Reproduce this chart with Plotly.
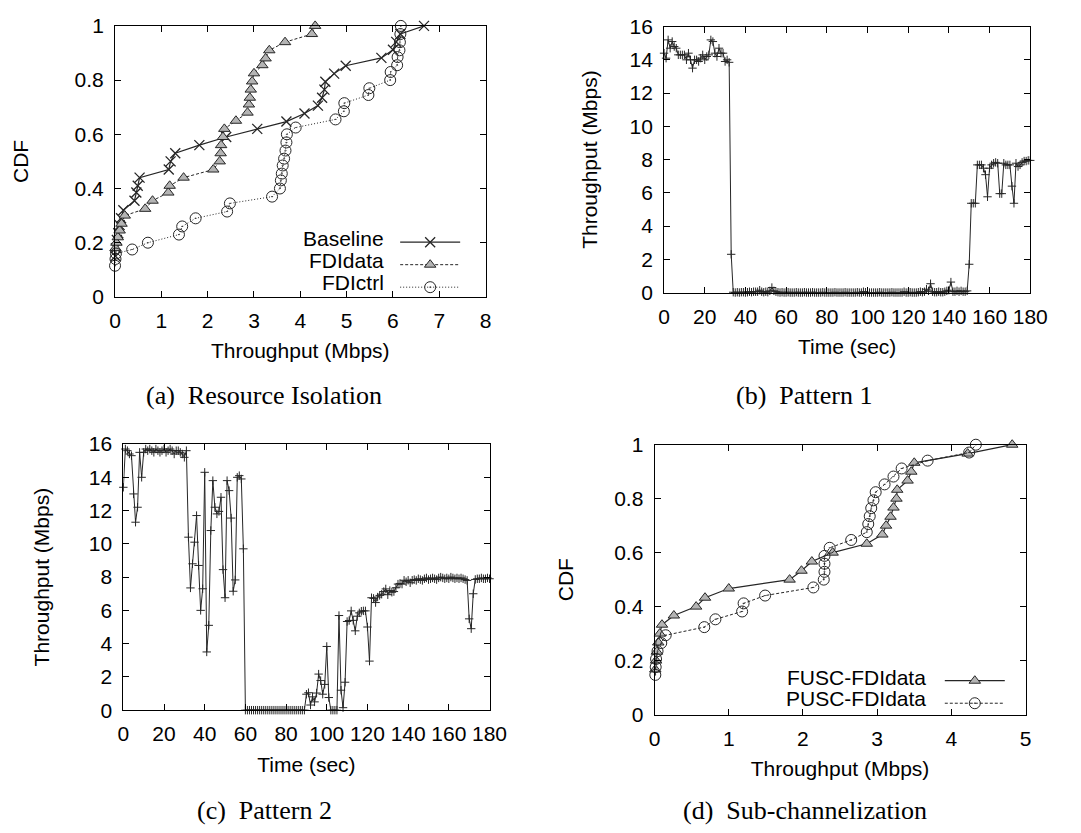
import plotly.graph_objects as go

W, H = 1081, 833

# ---------------- (a) Resource Isolation : CDF of throughput (Mbps)
baseline_x = [0.01, 0.02, 0.04, 0.07, 0.10, 0.13, 0.18, 0.42, 0.46, 0.49, 0.53, 1.16, 1.20, 1.30, 1.82,
              2.40, 3.07, 3.70, 4.09, 4.38, 4.47, 4.52, 4.54, 4.73, 4.98, 5.75, 6.00, 6.07, 6.16, 6.67]
baseline_y = [0.15, 0.18, 0.21, 0.235, 0.265, 0.29, 0.32, 0.355, 0.385, 0.41, 0.44, 0.47, 0.50, 0.53, 0.56,
              0.59, 0.62, 0.647, 0.677, 0.706, 0.735, 0.765, 0.794, 0.824, 0.853, 0.882, 0.912, 0.941, 0.97, 1.0]

fdidata_x = [0.01, 0.03, 0.06, 0.10, 0.14, 0.21, 0.65, 0.81, 1.15, 1.18, 1.48, 2.12, 2.26, 2.28, 2.29,
             2.33, 2.36, 2.61, 2.86, 2.89, 2.91, 2.93, 2.96, 3.00, 3.18, 3.25, 3.33, 3.67, 4.25, 4.32]
fdidata_y = [0.18, 0.20, 0.22, 0.245, 0.27, 0.30, 0.325, 0.355, 0.385, 0.41, 0.44, 0.47, 0.50, 0.53, 0.56,
             0.59, 0.62, 0.65, 0.68, 0.71, 0.735, 0.765, 0.795, 0.825, 0.855, 0.88, 0.91, 0.94, 0.97, 1.0]

fdictrl_x = [0.0, 0.01, 0.02, 0.37, 0.71, 1.38, 1.45, 1.74, 2.42, 2.48, 3.39, 3.56, 3.58, 3.60, 3.62,
             3.65, 3.68, 3.70, 3.71, 3.90, 4.76, 4.94, 4.95, 5.47, 5.49, 5.94, 5.95, 6.09, 6.10, 6.14,
             6.15, 6.16, 6.17]
fdictrl_y = [0.115, 0.14, 0.16, 0.175, 0.20, 0.23, 0.26, 0.29, 0.315, 0.345, 0.37, 0.40, 0.43, 0.455, 0.485,
             0.51, 0.54, 0.57, 0.60, 0.625, 0.655, 0.685, 0.715, 0.745, 0.77, 0.80, 0.83, 0.855, 0.885, 0.91,
             0.94, 0.97, 1.0]

# ---------------- (b) Pattern 1 and (c) Pattern 2 : throughput over time
time_sec = list(range(181))

pattern1 = [
    14.4, 14.1, 15.2, 14.7, 15.1, 14.8, 14.7, 14.3, 14.3, 14.3,
    14.3, 14.0, 14.4, 14.0, 13.5, 14.0, 14.0, 13.9, 14.1, 14.3,
    14.0, 14.2, 14.3, 15.2, 15.1, 14.4, 14.2, 14.7, 14.4, 14.4,
    13.9, 14.0, 13.85, 2.3, 0.02, 0.0, 0.02, 0.0, 0.02, 0.02,
    0.0, 0.02, 0.05, 0.02, 0.05, 0.05, 0.05, 0.14, 0.05, 0.02,
    0.05, 0.02, 0.1, 0.3, 0.1, 0.05, 0.02, 0.0, 0.02, 0.0,
    0.0, 0.02, 0.0, 0.0, 0.0, 0.02, 0.0, 0.0, 0.0, 0.02,
    0.0, 0.0, 0.0, 0.02, 0.0, 0.0, 0.0, 0.0, 0.02, 0.0,
    0.0, 0.0, 0.0, 0.0, 0.02, 0.0, 0.0, 0.0, 0.0, 0.02,
    0.0, 0.0, 0.0, 0.0, 0.0, 0.02, 0.0, 0.0, 0.05, 0.02,
    0.0, 0.0, 0.0, 0.0, 0.0, 0.0, 0.02, 0.0, 0.0, 0.0,
    0.0, 0.0, 0.02, 0.0, 0.0, 0.0, 0.0, 0.0, 0.05, 0.0,
    0.0, 0.02, 0.0, 0.0, 0.0, 0.02, 0.05, 0.02, 0.05, 0.2,
    0.1, 0.53, 0.05, 0.02, 0.02, 0.05, 0.02, 0.02, 0.05, 0.1,
    0.14, 0.63, 0.05, 0.05, 0.1, 0.05, 0.1, 0.05, 0.05, 0.1,
    1.7, 5.37, 5.37, 5.37, 7.68, 7.68, 7.68, 7.48, 7.09, 5.76,
    7.48, 7.68, 7.78, 7.83, 7.78, 5.95, 5.95, 7.78, 7.68, 7.68,
    7.68, 6.4, 5.37, 7.78, 7.58, 7.68, 7.83, 7.91, 7.91, 7.95,
    7.95,
]

pattern2 = [
    13.4, 15.7, 15.6, 15.4, 15.3, 13.0, 11.3, 12.2, 15.5, 14.0,
    15.5, 15.7, 15.6, 15.7, 15.6, 15.5, 15.7, 15.6, 15.5, 15.6,
    15.7, 15.5, 15.6, 15.7, 15.6, 15.4, 15.6, 15.6, 15.5, 15.4,
    15.2, 15.6, 10.4, 7.35, 8.8, 10.1, 11.7, 8.7, 6.0, 7.3,
    14.3, 3.5, 5.1, 10.8, 13.8, 12.2, 11.8, 11.95, 12.8, 8.45,
    6.76, 13.8, 13.2, 11.55, 7.15, 7.83, 14.0, 14.1, 13.9, 9.7,
    0.0, 0.0, 0.0, 0.0, 0.0, 0.0, 0.0, 0.0, 0.0, 0.0,
    0.0, 0.0, 0.0, 0.0, 0.0, 0.0, 0.0, 0.0, 0.0, 0.0,
    0.0, 0.0, 0.0, 0.0, 0.0, 0.0, 0.0, 0.0, 0.0, 0.0,
    0.96, 1.05, 0.31, 0.8, 0.5, 1.03, 2.17, 1.78, 0.96, 1.55,
    3.83, 0.76, 0.0, 0.0, 0.0, 0.0, 5.69, 1.2, 0.15, 1.68,
    5.33, 5.39, 5.97, 5.4, 4.77, 5.65, 5.85, 5.95, 5.97, 5.97,
    5.0, 2.95, 6.76, 6.72, 6.47, 6.8, 6.9, 6.97, 7.13, 7.29,
    6.94, 7.19, 7.09, 7.13, 7.36, 7.58, 7.62, 7.58, 7.81, 7.72,
    7.81, 7.66, 7.81, 7.85, 7.8, 7.9, 7.85, 7.8, 7.9, 7.95,
    7.85, 7.9, 7.95, 7.9, 7.85, 7.95, 8.0, 7.95, 7.9, 7.95,
    7.9, 8.0, 7.95, 7.9, 7.95, 7.9, 7.95, 7.9, 7.85, 7.8,
    5.49, 4.9, 7.0, 7.86, 7.9, 7.9, 7.95, 7.9, 7.9, 7.95,
    7.9,
]

# ---------------- (d) Sub-channelization : CDF of throughput (Mbps)
fusc_x = [0.01, 0.02, 0.03, 0.05, 0.07, 0.10, 0.26, 0.56, 0.68, 1.00, 1.82, 1.98, 2.12, 2.40, 2.86,
          3.07, 3.12, 3.18, 3.22, 3.26, 3.27, 3.41, 3.46, 3.50, 4.22, 4.82]
fusc_y = [0.167, 0.2, 0.233, 0.267, 0.3, 0.333, 0.367, 0.4, 0.433, 0.467, 0.5, 0.533, 0.567, 0.6, 0.633,
          0.667, 0.7, 0.733, 0.767, 0.8, 0.833, 0.867, 0.9, 0.933, 0.967, 1.0]

pusc_x = [0.01, 0.015, 0.02, 0.04, 0.09, 0.15, 0.67, 0.82, 1.18, 1.20, 1.49, 2.14, 2.28, 2.29, 2.29,
          2.29, 2.36, 2.65, 2.86, 2.88, 2.90, 2.92, 2.95, 2.98, 3.10, 3.22, 3.33, 3.68, 4.24, 4.33]
pusc_y = [0.147, 0.176, 0.206, 0.235, 0.265, 0.294, 0.324, 0.353, 0.382, 0.412, 0.441, 0.471, 0.5, 0.529, 0.559,
          0.588, 0.618, 0.647, 0.676, 0.706, 0.735, 0.765, 0.794, 0.824, 0.853, 0.882, 0.912, 0.941, 0.971, 1.0]

legend_a = ["Baseline", "FDIdata", "FDIctrl"]
legend_d = ["FUSC-FDIdata", "PUSC-FDIdata"]
captions = ["(a)\u00a0 Resource Isolation", "(b)\u00a0 Pattern 1", "(c)\u00a0 Pattern 2", "(d)\u00a0 Sub-channelization"]

SANS = "Liberation Sans, Arial, Helvetica, sans-serif"
SERIF = "Liberation Serif, Times New Roman, serif"
INK = "#262626"
FS = 21


def dx(l, r):
    return [l / W, r / W]


def dy(t, b):
    return [1 - b / H, 1 - t / H]


fig = go.Figure()

# (a)
fig.add_trace(go.Scatter(x=baseline_x, y=baseline_y, mode="lines+markers", name=" ",
                         hovertext=legend_a[0], xaxis="x", yaxis="y", legend="legend", cliponaxis=False,
                         line=dict(color=INK, width=1.2),
                         marker=dict(symbol="x-thin", size=10, line=dict(color=INK, width=1.3))))
fig.add_trace(go.Scatter(x=fdidata_x, y=fdidata_y, mode="lines+markers", name=" ",
                         hovertext=legend_a[1], xaxis="x", yaxis="y", legend="legend", cliponaxis=False,
                         line=dict(color=INK, width=1, dash="3px,2px"),
                         marker=dict(symbol="triangle-up", size=10, color="#b4b4b4",
                                     line=dict(color=INK, width=1))))
fig.add_trace(go.Scatter(x=fdictrl_x, y=fdictrl_y, mode="lines+markers", name=" ",
                         hovertext=legend_a[2], xaxis="x", yaxis="y", legend="legend", cliponaxis=False,
                         line=dict(color=INK, width=1, dash="1px,2px"),
                         marker=dict(symbol="circle-open-dot", size=11, color=INK,
                                     line=dict(color=INK, width=1))))

# (b)
fig.add_trace(go.Scatter(x=time_sec, y=pattern1, mode="lines+markers", showlegend=False,
                         xaxis="x2", yaxis="y2", cliponaxis=False,
                         line=dict(color=INK, width=1),
                         marker=dict(symbol="cross-thin", size=6, line=dict(color=INK, width=1))))
# (c)
fig.add_trace(go.Scatter(x=time_sec, y=pattern2, mode="lines+markers", showlegend=False,
                         xaxis="x3", yaxis="y3", cliponaxis=False,
                         line=dict(color=INK, width=1),
                         marker=dict(symbol="cross-thin", size=6, line=dict(color=INK, width=1))))
# (d)
fig.add_trace(go.Scatter(x=fusc_x, y=fusc_y, mode="lines+markers", name=" ",
                         hovertext=legend_d[0], xaxis="x4", yaxis="y4", legend="legend2", cliponaxis=False,
                         line=dict(color=INK, width=1.2),
                         marker=dict(symbol="triangle-up", size=10, color="#b4b4b4",
                                     line=dict(color=INK, width=1))))
fig.add_trace(go.Scatter(x=pusc_x, y=pusc_y, mode="lines+markers", name=" ",
                         hovertext=legend_d[1], xaxis="x4", yaxis="y4", legend="legend2", cliponaxis=False,
                         line=dict(color=INK, width=1, dash="3px,2px"),
                         marker=dict(symbol="circle-open-dot", size=11, color=INK,
                                     line=dict(color=INK, width=1))))


def axis(domain, rng, dtick, anchor, title, standoff, labelgap):
    return dict(domain=domain, range=rng, dtick=dtick, anchor=anchor,
                showline=True, mirror="allticks", linecolor="black", linewidth=1,
                ticks="inside", ticklen=6, tickwidth=1, tickcolor="black",
                showgrid=False, zeroline=False, ticklabelstandoff=labelgap,
                tickfont=dict(family=SANS, size=FS, color="black"),
                title=dict(text=title, font=dict(family=SANS, size=FS, color="black"), standoff=standoff))


A = dict(x=dx(111.5, 490.5), y=dy(14.3, 293))
B = dict(x=dx(673, 1047.5), y=dy(15, 288.5))
C = dict(x=dx(120, 494.5), y=dy(444.3, 718))
D = dict(x=dx(663.3, 1042.7), y=dy(445, 722.5))

fig.update_layout(
    width=W, height=H, margin=dict(l=0, r=0, t=0, b=0),
    paper_bgcolor="white", plot_bgcolor="white",
    xaxis=axis(A["x"], [0, 8], 1, "y", "Throughput (Mbps)", 12, 5),
    yaxis=axis(A["y"], [0, 1], 0.2, "x", "CDF", 40, 6),
    xaxis2=axis(B["x"], [0, 180], 20, "y2", "Time (sec)", 12, 5),
    yaxis2=axis(B["y"], [0, 16], 2, "x2", "Throughput (Mbps)", 26, 6),
    xaxis3=axis(C["x"], [0, 180], 20, "y3", "Time (sec)", 12, 5),
    yaxis3=axis(C["y"], [0, 16], 2, "x3", "Throughput (Mbps)", 33, 6),
    xaxis4=axis(D["x"], [0, 5], 1, "y4", "Throughput (Mbps)", 12, 5),
    yaxis4=axis(D["y"], [0, 1], 0.2, "x4", "CDF", 34, 6),
    legend=dict(x=398 / W, y=1 - 220 / H, xanchor="left", yanchor="top", bgcolor="rgba(0,0,0,0)",
                font=dict(size=15, family=SANS), tracegroupgap=0, itemwidth=60, borderwidth=0),
    legend2=dict(x=955 / W, y=1 - 671 / H, xanchor="left", yanchor="top", bgcolor="rgba(0,0,0,0)",
                 font=dict(size=15, family=SANS), tracegroupgap=0, itemwidth=60, borderwidth=0),
    showlegend=True,
)

ann = []
# legend labels (text to the left of the line samples, as in gnuplot keys)
for txt, ypx in zip(legend_a, [233, 255.5, 278]):
    ann.append(dict(text=txt, x=389 / W, y=1 - ypx / H, xref="paper", yref="paper", xanchor="right",
                    yanchor="middle", showarrow=False, font=dict(family=SANS, size=FS, color="black")))
for txt, ypx in zip(legend_d, [684, 706.5]):
    ann.append(dict(text=txt, x=943 / W, y=1 - ypx / H, xref="paper", yref="paper", xanchor="right",
                    yanchor="middle", showarrow=False, font=dict(family=SANS, size=FS, color="black")))
# sub-figure captions
for txt, (xp, yp) in zip(captions, [(264, 394), (816, 394), (264, 821), (817, 821)]):
    ann.append(dict(text=txt, x=xp / W, y=1 - yp / H, xref="paper", yref="paper", xanchor="center",
                    yanchor="middle", showarrow=False, font=dict(family=SERIF, size=26, color="black")))
fig.update_layout(annotations=ann)

fig.write_html("out.html", config={"displayModeBar": False},
               post_script="document.body.style.margin='0px';document.body.style.overflow='hidden';")
